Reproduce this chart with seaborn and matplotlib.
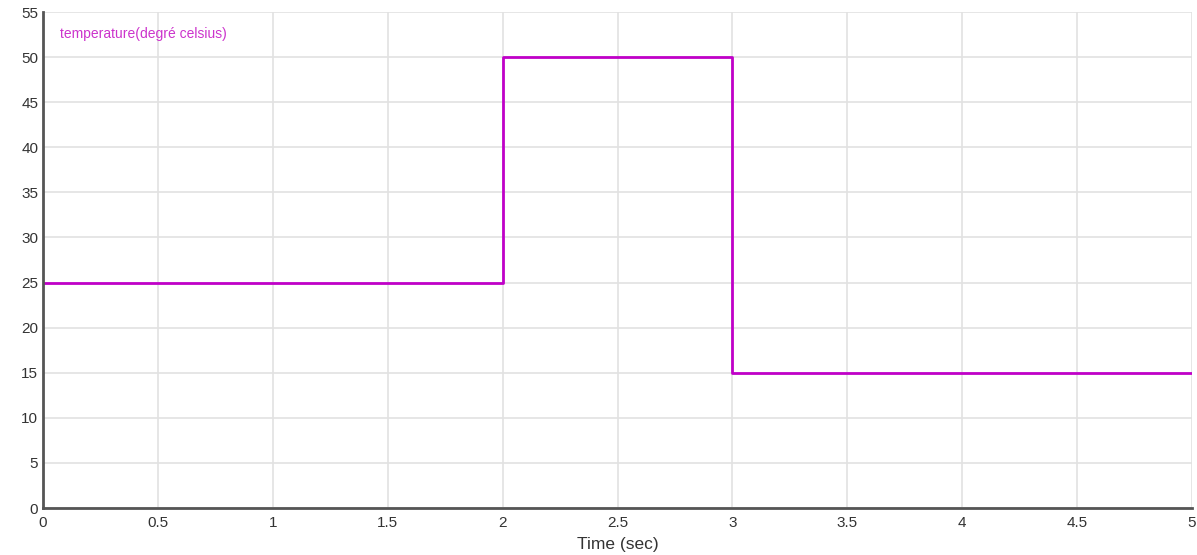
import numpy as np
import pandas as pd
import seaborn as sns
import matplotlib.pyplot as plt

# step signal: time (sec) and temperature values
time_sec = [0, 2, 3, 5]
temperature = [25, 50, 15, 15]
x_ticks = [0, 0.5, 1, 1.5, 2, 2.5, 3, 3.5, 4, 4.5, 5]
x_labels = ["0", "0.5", "1", "1.5", "2", "2.5", "3", "3.5", "4", "4.5", "5"]
y_ticks = list(range(0, 60, 5))

sns.set_style("white")
plt.rcParams['font.family'] = ['Liberation Sans', 'DejaVu Sans']

df = pd.DataFrame({"time": time_sec, "temp": temperature})

fig = plt.figure(figsize=(11.97, 5.55), dpi=100)
ax = fig.add_axes([43/1197, 47/555, 1149/1197, 496/555])

sns.lineplot(data=df, x="time", y="temp", ax=ax, estimator=None,
             drawstyle="steps-post", color="#c000c8", linewidth=2)

ax.set_xlim(0, 5)
ax.set_ylim(0, 55)
ax.set_xticks(x_ticks)
ax.set_xticklabels(x_labels)
ax.set_yticks(y_ticks)
ax.grid(True, color="#e2e2e2", linewidth=1.2)
ax.set_axisbelow(True)

for s in ["top", "right"]:
    ax.spines[s].set_visible(False)
for s in ["left", "bottom"]:
    ax.spines[s].set_color("#555555")
    ax.spines[s].set_linewidth(2)

ax.tick_params(axis="both", direction="in", length=9, width=1.5,
               color="#555555", labelsize=11, labelcolor="#333333")
ax.tick_params(axis="x", pad=6)
ax.set_xlabel("Time (sec)", fontsize=12.5, color="#333333", labelpad=5)
ax.set_ylabel("")

ax.text(0.015, 0.955, "temperature(degré celsius)", transform=ax.transAxes,
        color="#cc33cc", fontsize=10, va="center", ha="left")

fig.savefig("out.png", dpi=100)
